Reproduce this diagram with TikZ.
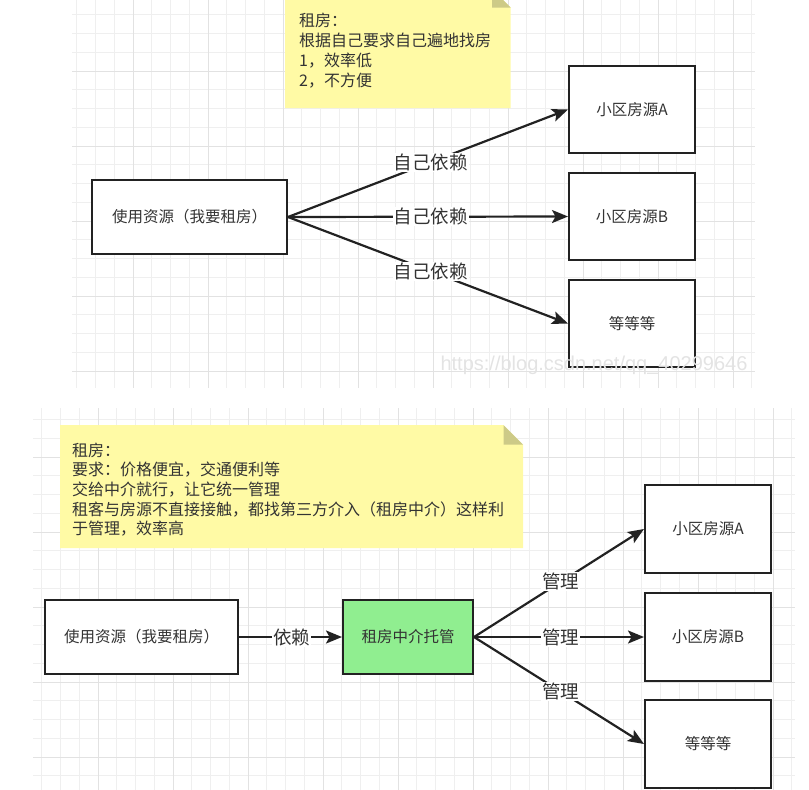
\documentclass[tikz,border=0pt]{standalone}
\usepackage{fontspec}
\setmainfont{Noto Sans CJK SC}
\newfontfamily\wmfont{Liberation Sans}
\usetikzlibrary{arrows.meta}
\definecolor{gridminor}{RGB}{239,239,239}
\definecolor{gridmajor}{RGB}{226,226,226}
\definecolor{noteyellow}{RGB}{255,250,165}
\definecolor{notefold}{RGB}{205,202,135}
\definecolor{boxgreen}{RGB}{144,238,144}
\definecolor{linecol}{RGB}{34,34,34}
\definecolor{txtcol}{RGB}{51,51,51}
\tikzset{
  gmin/.style={draw=gridminor, line width=0.7pt},
  gmaj/.style={draw=gridmajor, line width=0.9pt},
  box/.style={draw=linecol, line width=2pt, fill=white, inner sep=0pt, text=txtcol,
    font=\fontsize{15.5}{18}\selectfont},
  userbox/.style={minimum width=195pt, minimum height=74pt},
  agentbox/.style={minimum width=130pt, minimum height=74pt, fill=boxgreen},
  srcbox/.style={minimum width=126pt, minimum height=87pt},
  arr/.style={draw=linecol, line width=2.2pt, -{Stealth[length=16pt, width=13pt, inset=3.5pt]}},
  elabel/.style={fill=white, inner sep=1pt, text=txtcol, font=\fontsize{18.5}{20}\selectfont},
  notetxt/.style={anchor=base west, inner sep=0pt, text=txtcol, font=\fontsize{16}{19}\selectfont},
}
\begin{document}
\begin{tikzpicture}[x=1pt, y=-1pt]
\useasboundingbox (0,0) rectangle (809,790);
% ---------- grids ----------
\begin{scope}
  \clip (72,0) rectangle (755,388);
  \foreach \k in {-4,...,33} \draw[gmin] ({133+\k*18.75},0) -- ++(0,388);
  \foreach \k in {-4,...,17} \draw[gmin] (72,{71+\k*18.75}) -- ++(683,0);
  \foreach \k in {-1,...,8} \draw[gmaj] ({133+\k*75},0) -- ++(0,388);
  \foreach \k in {-1,...,4} \draw[gmaj] (72,{71+\k*75}) -- ++(683,0);
\end{scope}
\begin{scope}
  \clip (33,408) rectangle (795,790);
  \foreach \k in {-4,...,38} \draw[gmin] ({98+\k*18.75},408) -- ++(0,382);
  \foreach \k in {-3,...,18} \draw[gmin] (33,{457+\k*18.75}) -- ++(762,0);
  \foreach \k in {-1,...,10} \draw[gmaj] ({98+\k*75},408) -- ++(0,382);
  \foreach \k in {-1,...,5} \draw[gmaj] (33,{457+\k*75}) -- ++(762,0);
\end{scope}
% ---------- notes ----------
\begin{scope}
  \clip (0,0) rectangle (809,790);
  \fill[noteyellow] (285,-11) -- (492,-11) -- (510.5,7.5) -- (510.5,108) -- (285,108) -- cycle;
  \fill[notefold] (492,-11) -- (492,7.5) -- (510.5,7.5) -- cycle;
\end{scope}
\node[notetxt] (t1) at (299,26) {租房：};
\node[notetxt] (t2) at (299,46.5) {根据自己要求自己遍地找房};
\node[notetxt] (t3) at (299,66.5) {1，效率低};
\node[notetxt] (t4) at (299,86) {2，不方便};

\fill[noteyellow] (60,425) -- (503.5,425) -- (523,444.5) -- (523,548) -- (60,548) -- cycle;
\fill[notefold] (503.5,425) -- (503.5,444.5) -- (523,444.5) -- cycle;
\node[notetxt] (s1) at (72,456) {租房：};
\node[notetxt] (s2) at (72,475.5) {要求：价格便宜，交通便利等};
\node[notetxt] (s3) at (72,495) {交给中介就行，让它统一管理};
\node[notetxt] (s4) at (72,515) {租客与房源不直接接触，都找第三方介入（租房中介）这样利};
\node[notetxt] (s5) at (72,534.5) {于管理，效率高};

% ---------- top diagram ----------
\node[box, userbox] (u1) at (189.5,217) {使用资源（我要租房）};
\node[box, srcbox] (a1) at (632,109.5) {小区房源A};
\node[box, srcbox] (b1) at (632,216.5) {小区房源B};
\node[box, srcbox] (c1) at (632,323.5) {等等等};
\draw[arr] (u1.east) -- node[elabel, pos=0.51] (l1) {自己依赖} (a1.west);
\draw[arr] (u1.east) -- node[elabel, pos=0.51] (l2) {自己依赖} (b1.west);
\draw[arr] (u1.east) -- node[elabel, pos=0.51] (l3) {自己依赖} (c1.west);

% ---------- bottom diagram ----------
\node[box, userbox, minimum width=193pt] (u2) at (141.5,637) {使用资源（我要租房）};
\node[box, agentbox] (ag) at (408,637) {租房中介托管};
\node[box, srcbox, minimum height=88pt] (a2) at (708,529) {小区房源A};
\node[box, srcbox, minimum height=88pt] (b2) at (708,637) {小区房源B};
\node[box, srcbox, minimum height=88pt] (c2) at (708,744) {等等等};
\draw[arr] (u2.east) -- node[elabel, pos=0.51] (m0) {依赖} (ag.west);
\draw[arr] (ag.east) -- node[elabel, pos=0.51] (m1) {管理} (a2.west);
\draw[arr] (ag.east) -- node[elabel, pos=0.51] (m2) {管理} (b2.west);
\draw[arr] (ag.east) -- node[elabel, pos=0.51] (m3) {管理} (c2.west);

% ---------- watermark ----------
\node[font=\wmfont\fontsize{20}{24}\selectfont, text=black!11, inner sep=0pt] (wm) at (594,365) {https://blog.csdn.net/qq\_40299646};
\end{tikzpicture}
\end{document}
